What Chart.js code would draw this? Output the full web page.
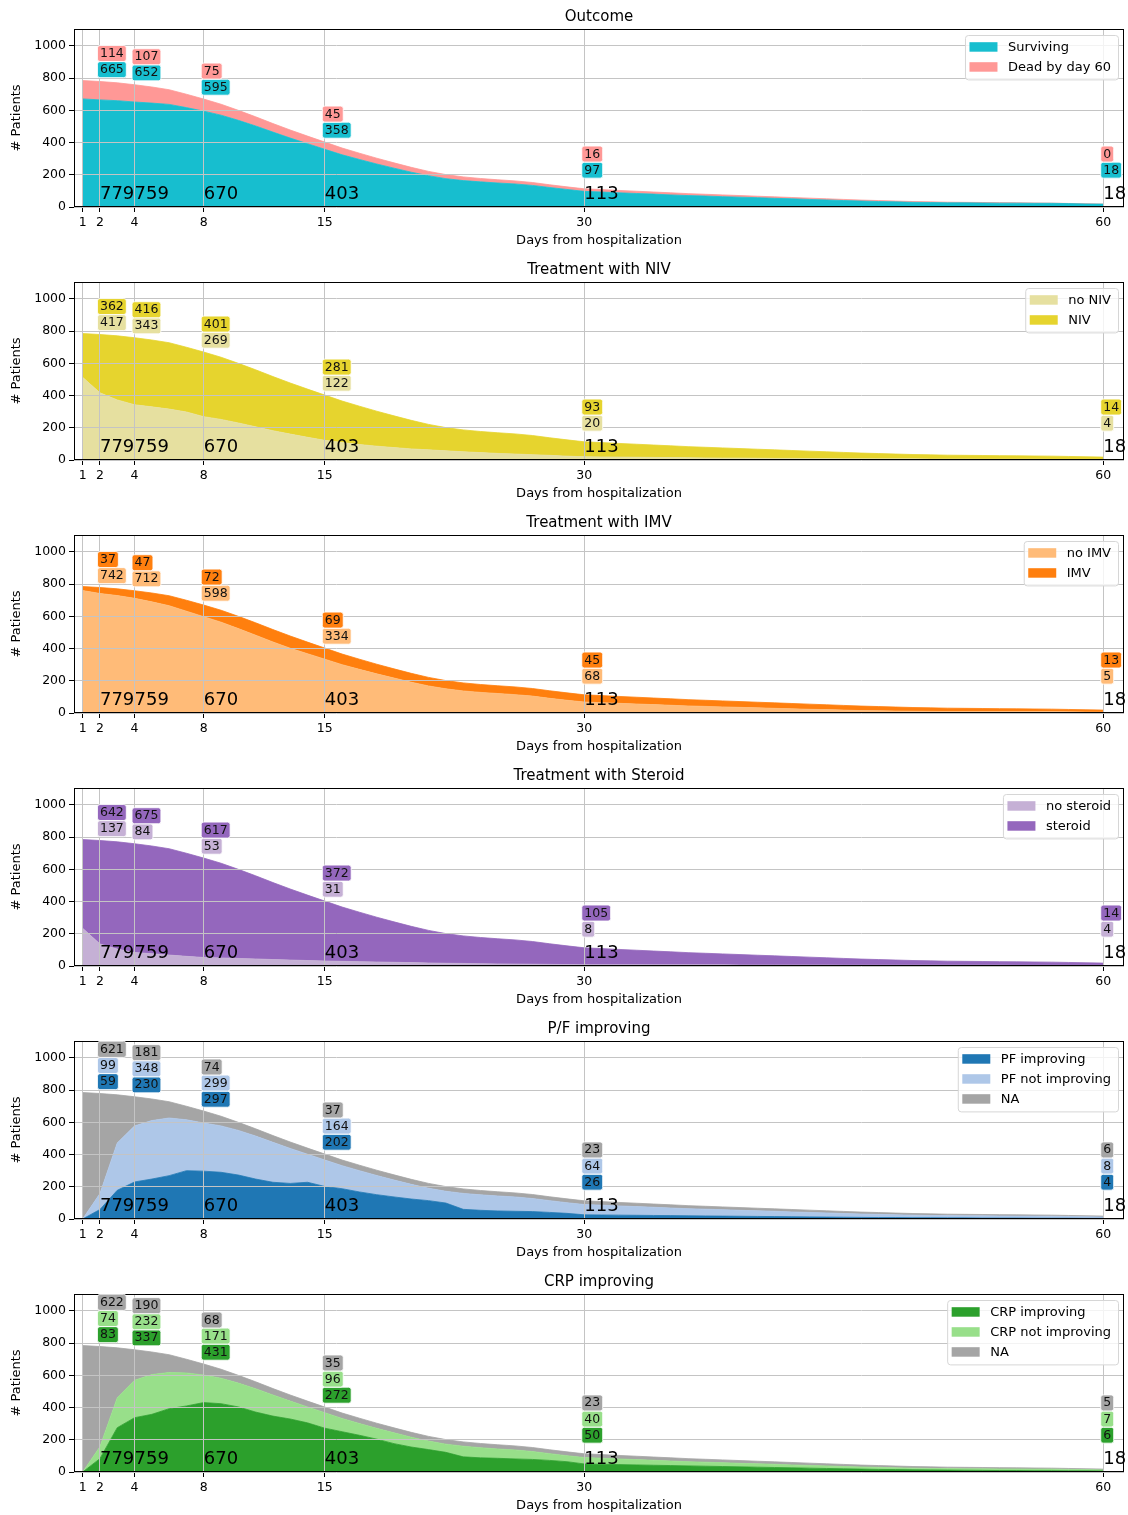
<!DOCTYPE html>
<html>
<head>
<meta charset="utf-8">
<script src="https://cdn.jsdelivr.net/npm/chart.js@4/dist/chart.umd.min.js"></script>
<style>
  html, body { margin: 0; padding: 0; background: #fff; overflow: hidden; }
  #wrap { position: relative; width: 1128px; height: 1515px; overflow: hidden; }
  #wrap canvas { position: absolute; left: 0; }
</style>
</head>
<body>
<div id="wrap"></div>
<script>
// Days since hospitalization (x axis)
const days = [1,2,3,4,5,6,7,8,9,10,11,12,13,14,15,16,17,18,19,20,
              21,22,23,24,25,26,27,28,29,30,31,32,33,34,35,36,37,38,39,40,
              41,42,43,44,45,46,47,48,49,50,51,52,53,54,55,56,57,58,59,60];
const tickDays = [1, 2, 4, 8, 15, 30, 60];
const checkpointDays = [2, 4, 8, 15, 30, 60];

// Outcome
const surviving = [671,665,660,652,645,637,617,595,570,538, 503,465,428,393,358,324,295,267,241,216,
                   194,176,164,156,149,143,134,121,109,97, 93,88,84,80,75,71,68,64,61,58,
                   54,51,47,44,40,37,34,32,29,28, 26,26,25,24,24,23,23,21,19,18];
const dead = [114,114,111,107,100,91,83,75,68,62, 57,53,50,47,45,42,39,36,33,30,
              27,25,23,21,20,19,18,17,16,16, 15,15,14,13,13,12,11,11,10,9,
              9,8,8,7,7,6,6,5,5,4, 4,3,3,3,2,2,1,1,1,0];

// Non-invasive ventilation
const noNiv = [513,417,373,343,330,316,298,269,252,230, 206,182,161,141,122,108,96,86,77,69,
               63,57,51,46,41,37,33,29,24,20, 19,18,17,16,15,14,13,12,12,11,
               10,10,9,9,8,8,7,7,7,6, 6,6,5,5,5,5,4,4,4,4];
const niv = [272,362,398,416,415,412,402,401,386,370, 354,336,317,299,281,258,238,217,197,177,
             158,144,136,131,128,125,119,109,101,93, 89,85,81,77,73,69,66,63,59,56,
             53,49,46,42,39,35,33,30,27,26, 24,23,23,22,21,20,20,18,16,14];

// Invasive mechanical ventilation
const noImv = [760,742,729,712,690,666,632,598,564,524, 483,441,402,368,334,300,271,243,217,191,
               168,150,137,128,121,114,105,91,79,68, 64,60,56,52,48,44,41,38,35,32,
               29,26,23,21,18,15,14,12,11,10, 9,9,9,9,9,9,9,7,6,5];
const imv = [25,37,42,47,55,62,68,72,74,76, 77,77,76,72,69,66,63,60,57,55,
             53,51,50,49,48,48,47,47,46,45, 44,43,42,41,40,39,38,37,36,35,
             34,33,32,30,29,28,26,25,23,22, 21,20,19,18,17,16,15,15,14,13];

// Steroid treatment
const noSteroid = [234,137,105,84,76,68,60,53,50,47, 44,40,37,34,31,29,27,25,23,21,
                   19,17,16,14,13,12,11,10,9,8, 8,8,8,7,7,7,7,7,6,6,
                   6,6,6,6,5,5,5,5,5,5, 5,5,5,5,4,4,4,4,4,4];
const steroid = [551,642,666,675,669,660,640,617,588,553, 516,478,441,406,372,337,307,278,251,225,
                 202,184,171,163,156,150,141,128,116,105, 100,95,90,86,81,76,72,68,65,61,
                 57,53,49,45,42,38,35,32,29,27, 25,24,23,22,22,21,20,18,16,14];

// P/F ratio
const pfImproving = [0,59,178,230,248,269,300,297,290,273, 248,228,221,228,202,188,168,151,137,124,
                     114,99,60,54,50,48,46,41,35,26, 25,24,23,22,21,20,19,18,17,16,
                     15,14,13,12,11,10,9,9,8,8, 7,7,6,6,6,5,5,5,4,4];
const pfNotImproving = [0,99,294,348,363,358,316,299,288,277, 267,248,217,174,164,143,132,119,105,91,
                        77,73,99,96,93,89,81,73,66,64, 61,57,54,51,47,44,42,40,37,35,
                        33,30,28,26,23,21,20,17,16,14, 14,13,14,13,12,13,12,10,10,8];
const pfNA = [785,621,299,181,134,101,84,74,60,50, 45,42,40,38,37,35,34,33,32,31,
              30,29,28,27,26,25,25,24,24,23, 22,22,21,20,20,19,18,17,17,16,
              15,15,14,13,13,12,11,11,10,10, 9,9,8,8,8,7,7,7,6,6];

// C-reactive protein
const crpImproving = [0,83,275,337,358,393,410,431,424,404, 372,347,329,305,272,250,228,204,176,155,
                      139,122,94,88,85,81,78,72,64,50, 48,46,44,42,40,38,36,34,32,30,
                      28,26,24,22,20,18,16,15,14,13, 12,11,10,9,9,8,8,7,7,6];
const crpNotImproving = [0,74,186,232,247,225,205,171,158,148, 145,131,111,99,96,82,73,67,67,61,
                         53,51,66,63,58,56,49,42,37,40, 38,35,33,31,28,26,25,24,22,21,
                         20,18,17,16,14,13,13,11,10,9, 9,9,10,10,10,10,10,9,8,7];
const crpNA = [785,622,310,190,140,110,85,68,56,48, 43,40,38,36,35,34,33,32,31,30,
               29,28,27,26,26,25,25,24,24,23, 22,22,21,20,20,19,18,17,17,16,
               15,15,14,13,13,12,11,11,10,10, 9,9,8,8,7,7,6,6,5,5];

const panels = [
  { title: 'Outcome', series: [
      { label: 'Surviving', data: surviving, color: '#17becf' },
      { label: 'Dead by day 60', data: dead, color: '#ff9896' } ] },
  { title: 'Treatment with NIV', series: [
      { label: 'no NIV', data: noNiv, color: '#e6e0a0' },
      { label: 'NIV', data: niv, color: '#e6d42e' } ] },
  { title: 'Treatment with IMV', series: [
      { label: 'no IMV', data: noImv, color: '#ffbb78' },
      { label: 'IMV', data: imv, color: '#ff7f0e' } ] },
  { title: 'Treatment with Steroid', series: [
      { label: 'no steroid', data: noSteroid, color: '#c5b0d5' },
      { label: 'steroid', data: steroid, color: '#9467bd' } ] },
  { title: 'P/F improving', series: [
      { label: 'PF improving', data: pfImproving, color: '#1f77b4' },
      { label: 'PF not improving', data: pfNotImproving, color: '#aec7e8' },
      { label: 'NA', data: pfNA, color: '#a5a5a5' } ] },
  { title: 'CRP improving', series: [
      { label: 'CRP improving', data: crpImproving, color: '#2ca02c' },
      { label: 'CRP not improving', data: crpNotImproving, color: '#98df8a' },
      { label: 'NA', data: crpNA, color: '#a5a5a5' } ] }
];

const FONT = '"DejaVu Sans", "Liberation Sans", sans-serif';
const PANEL_H = 253;

function roundRect(ctx, x, y, w, h, r) {
  ctx.beginPath();
  ctx.moveTo(x + r, y);
  ctx.lineTo(x + w - r, y);
  ctx.arcTo(x + w, y, x + w, y + r, r);
  ctx.lineTo(x + w, y + h - r);
  ctx.arcTo(x + w, y + h, x + w - r, y + h, r);
  ctx.lineTo(x + r, y + h);
  ctx.arcTo(x, y + h, x, y + h - r, r);
  ctx.lineTo(x, y + r);
  ctx.arcTo(x, y, x + r, y, r);
  ctx.closePath();
}

// Axes frame, per-day counts, stacked value tags and the in-plot legend
const overlayPlugin = {
  id: 'overlay',
  afterDraw(chart) {
    const { ctx, chartArea: a, scales } = chart;
    const xs = scales.x, ys = scales.y;
    const sets = chart.data.datasets;
    ctx.save();

    // frame
    ctx.strokeStyle = '#000';
    ctx.lineWidth = 1;
    ctx.strokeRect(a.left + 0.5, a.top + 0.5, a.right - a.left - 1, a.bottom - a.top - 1);

    checkpointDays.forEach(d => {
      const i = days.indexOf(d);
      const total = sets.reduce((s, k) => s + k.data[i], 0);
      const px = xs.getPixelForValue(d);

      // number of patients at that day
      ctx.font = '18px ' + FONT;
      ctx.fillStyle = '#000';
      ctx.textAlign = 'left';
      ctx.textBaseline = 'alphabetic';
      ctx.fillText(String(total), px, ys.getPixelForValue(50));

      // value tags stacked above the curve
      const base = Math.max(total, 155) + 75;
      ctx.font = '12.5px ' + FONT;
      sets.forEach((k, j) => {
        const py = ys.getPixelForValue(base + 100 * j);
        const txt = String(k.data[i]);
        const w = ctx.measureText(txt).width;
        roundRect(ctx, px - 2.5, py - 7.8, w + 5, 16, 2.5);
        ctx.fillStyle = k.backgroundColor;
        ctx.fill();
        ctx.strokeStyle = 'rgba(255,255,255,0.85)';
        ctx.lineWidth = 1;
        ctx.stroke();
        ctx.fillStyle = '#111';
        ctx.textBaseline = 'middle';
        ctx.fillText(txt, px, py + 0.5);
      });
    });

    // legend
    ctx.font = '13px ' + FONT;
    const maxW = Math.max(...sets.map(k => ctx.measureText(k.label).width));
    const bw = 4.5 + 28 + 10.5 + maxW + 7;
    const bh = 24.4 + 20 * (sets.length - 1);
    const bx = a.right - 6 - bw, by = a.top + 6;
    roundRect(ctx, bx + 0.5, by + 0.5, bw, bh, 3);
    ctx.fillStyle = 'rgba(255,255,255,0.8)';
    ctx.fill();
    ctx.strokeStyle = '#d6d6d6';
    ctx.lineWidth = 1;
    ctx.stroke();
    sets.forEach((k, j) => {
      const cy = by + 11.7 + 20 * j;
      ctx.fillStyle = k.backgroundColor;
      ctx.fillRect(bx + 4.5, cy - 4.5, 28, 9.5);
      ctx.fillStyle = '#000';
      ctx.textBaseline = 'middle';
      ctx.textAlign = 'left';
      ctx.fillText(k.label, bx + 43, cy + 0.5);
    });

    ctx.restore();
  }
};

const wrap = document.getElementById('wrap');
panels.forEach((p, k) => {
  const cv = document.createElement('canvas');
  cv.width = 1128;
  cv.height = PANEL_H;
  cv.style.top = (k * PANEL_H) + 'px';
  wrap.appendChild(cv);

  const datasets = p.series.map((s, j) => ({
    label: s.label,
    data: s.data,
    backgroundColor: s.color,
    borderColor: s.color,
    borderWidth: 0.8,
    pointRadius: 0,
    tension: 0,
    fill: j === 0 ? 'origin' : '-1'
  }));

  new Chart(cv, {
    type: 'line',
    data: { labels: days, datasets },
    plugins: [overlayPlugin],
    options: {
      responsive: false,
      devicePixelRatio: 1,
      animation: false,
      events: [],
      layout: { padding: { left: 0, right: 4, top: 0, bottom: 0 } },
      plugins: {
        legend: { display: false },
        tooltip: { enabled: false },
        title: {
          display: true,
          text: p.title,
          fullSize: false,
          color: '#000',
          font: { family: FONT, size: 15, weight: 'normal' },
          padding: { top: 8, bottom: 3 }
        }
      },
      scales: {
        x: {
          type: 'linear',
          min: 0.5,
          max: 61.2,
          afterBuildTicks: s => { s.ticks = tickDays.map(v => ({ value: v })); },
          afterFit: s => { s.height = 46; },
          ticks: {
            color: '#000',
            font: { family: FONT, size: 12.5 },
            padding: 3,
            maxRotation: 0,
            autoSkip: false,
            callback: v => String(v)
          },
          grid: { color: '#c4c4c4', lineWidth: 1, z: 1, drawTicks: true, tickLength: 5, tickColor: '#000' },
          border: { display: false },
          title: {
            display: true,
            text: 'Days from hospitalization',
            color: '#000',
            font: { family: FONT, size: 13 },
            padding: { top: 0, bottom: 5 }
          }
        },
        y: {
          stacked: true,
          min: 0,
          max: 1105,
          afterFit: s => { s.width = 74; },
          ticks: {
            stepSize: 200,
            includeBounds: false,
            color: '#000',
            font: { family: FONT, size: 12.5 },
            padding: 3,
            callback: v => String(v)
          },
          grid: { color: '#c4c4c4', lineWidth: 1, z: 1, drawTicks: true, tickLength: 5, tickColor: '#000' },
          border: { display: false },
          title: {
            display: true,
            text: '# Patients',
            color: '#000',
            font: { family: FONT, size: 13 },
            padding: { top: 9, bottom: 0 }
          }
        }
      }
    }
  });
});
</script>
</body>
</html>
